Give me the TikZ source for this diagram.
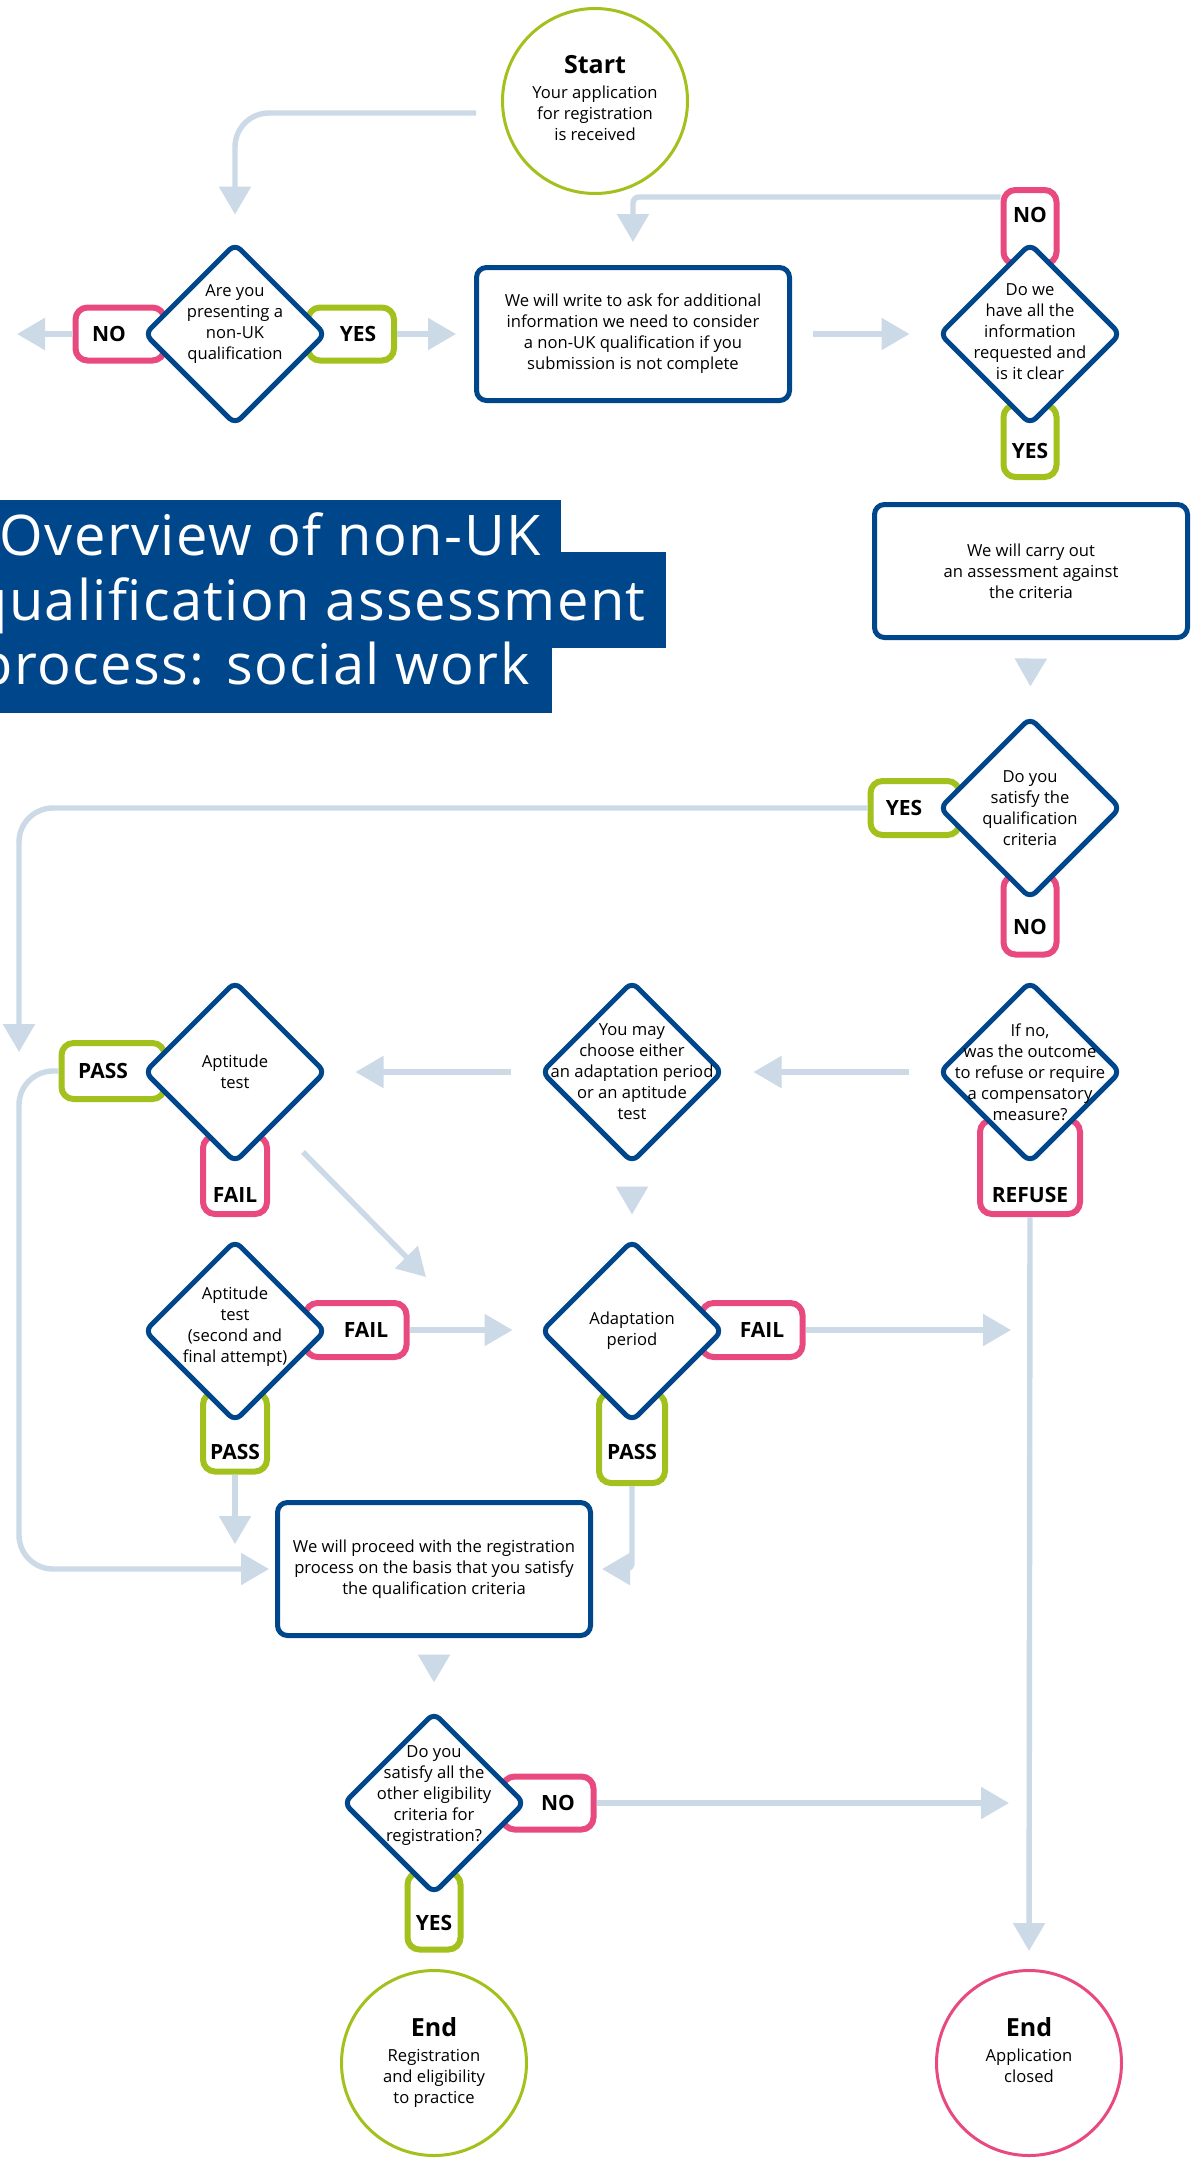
\documentclass[tikz,border=0pt]{standalone}
\usepackage{fontspec}
\setmainfont{Open Sans}
\newfontfamily\headingfont{Open Sans}[LetterSpace=2.5]
\usetikzlibrary{arrows.meta,shapes.geometric}

\definecolor{hcpcblue}{HTML}{00468B}
\definecolor{hcpcpink}{HTML}{E84A80}
\definecolor{hcpcgreen}{HTML}{A3C11C}
\definecolor{linegrey}{HTML}{CCDAE7}

\tikzset{
  question/.style={diamond, draw=hcpcblue, line width=2.5pt, fill=white, rounded corners=4pt,
    minimum width=91pt, minimum height=91pt, inner sep=0pt},
  qtext/.style={align=center, font=\fontsize{8.3}{10.5}\selectfont, inner sep=0pt},
  stepbox/.style={rectangle, draw=hcpcblue, line width=2.5pt, fill=white, rounded corners=5pt,
    minimum width=156.5pt, minimum height=66.5pt, align=center, font=\fontsize{8.3}{10.5}\selectfont},
  notab/.style={rectangle, draw=hcpcpink, line width=3pt, fill=white, rounded corners=6pt},
  yestab/.style={rectangle, draw=hcpcgreen, line width=3pt, fill=white, rounded corners=6pt},
  lab/.style={font=\fontsize{10.5}{12}\selectfont\bfseries, inner sep=0pt},
  terminal/.style={circle, line width=1.5pt, fill=white, minimum size=92.5pt, inner sep=0pt},
  ctext/.style={align=center, font=\fontsize{8.3}{10.5}\selectfont, inner sep=0pt},
  heading/.style={font=\headingfont\fontsize{28}{34}\selectfont, text=white, inner sep=0pt},
  conn/.style={draw=linegrey, line width=2.7pt, -{Triangle[width=15.5pt,length=14pt]}},
}

\begin{document}
\begin{tikzpicture}[x=0.5pt, y=-0.5pt]
\useasboundingbox (0,0) rectangle (1192,2168);
\fill[white] (0,0) rectangle (1192,2168);

% title
\fill[hcpcblue] (0,500) rectangle (561,552);
\fill[hcpcblue] (0,552) rectangle (666,648);
\fill[hcpcblue] (0,648) rectangle (552,713);
\node[heading, anchor=base east] (title1) at (541,555) {Overview of non-UK};
\node[heading, anchor=base east] (title2) at (646,620) {qualification assessment};
\node[heading, anchor=base east] (title3) at (530,684) {process: social work};

% start
\node[terminal, draw=hcpcgreen] (start) at (595,101) {};
\node[ctext, anchor=north] (starttxt) at (595,55)
  {{\fontsize{12.5}{13}\selectfont\bfseries Start}\\[2pt]Your application\\for registration\\is received};

% row 1
\node[notab, minimum width=44.5pt, minimum height=26.5pt, label={[lab, xshift=-5.5pt]center:NO}] (q1no) at (120,334) {};
\node[yestab, minimum width=43pt, minimum height=26.5pt, label={[lab, xshift=3.5pt]center:YES}] (q1yes) at (351,334) {};
\node[question, label={[qtext, yshift=5pt]center:{Are you\\presenting a\\non-UK\\qualification}}] (q1) at (235,334) {};

\node[stepbox] (b1) at (633,334) {We will write to ask for additional\\information we need to consider\\a non-UK qualification if you\\submission is not complete};

\node[notab, minimum width=26.5pt, minimum height=37pt, label={[lab, yshift=6pt]center:NO}] (q2no) at (1030,227) {};
\node[yestab, minimum width=26.5pt, minimum height=36pt, label={[lab, yshift=-5pt]center:YES}] (q2yes) at (1030,441) {};
\node[question, label={[qtext, yshift=1pt]center:{Do we\\have all the\\information\\requested and\\is it clear}}] (q2) at (1030,334) {};

% assessment
\node[stepbox] (b2) at (1031,571) {We will carry out\\an assessment against\\the criteria};

\node[yestab, minimum width=44.5pt, minimum height=27pt, label={[lab, xshift=-5.5pt]center:YES}] (q3yes) at (915,808) {};
\node[notab, minimum width=26.5pt, minimum height=39.5pt, label={[lab, yshift=-6pt]center:NO}] (q3no) at (1030,915) {};
\node[question, label={[qtext]center:{Do you\\satisfy the\\qualification\\criteria}}] (q3) at (1030,808) {};

% row 4
\node[yestab, minimum width=51.5pt, minimum height=28pt, label={[lab, xshift=-5pt]center:PASS}] (q4pass) at (113,1071) {};
\node[notab, minimum width=32pt, minimum height=39pt, label={[lab, yshift=-10pt]center:FAIL}] (q4fail) at (235,1175) {};
\node[question, label={[qtext]center:{Aptitude\\test}}] (q4) at (235,1072) {};

\node[question, label={[qtext]center:{You may\\choose either\\an adaptation period\\or an aptitude\\test}}] (q5) at (632,1072) {};

\node[notab, minimum width=50pt, minimum height=47pt, label={[lab, yshift=-14pt]center:REFUSE}] (q6refuse) at (1030,1167) {};
\node[question, label={[qtext]center:{If no,\\was the outcome\\to refuse or require\\a compensatory\\measure?}}] (q6) at (1030,1072) {};

% row 5
\node[notab, minimum width=50.5pt, minimum height=27pt, label={[lab, xshift=5pt]center:FAIL}] (q7fail) at (356,1330) {};
\node[yestab, minimum width=32pt, minimum height=39.5pt, label={[lab, yshift=-10pt]center:PASS}] (q7pass) at (235,1432) {};
\node[question, label={[qtext, yshift=2pt]center:{Aptitude\\test\\(second and\\final attempt)}}] (q7) at (235,1331) {};

\node[notab, minimum width=50.5pt, minimum height=27pt, label={[lab, xshift=5pt]center:FAIL}] (q8fail) at (752,1330) {};
\node[yestab, minimum width=33pt, minimum height=45pt, label={[lab, yshift=-7pt]center:PASS}] (q8pass) at (632,1438) {};
\node[question, label={[qtext]center:{Adaptation\\period}}] (q8) at (632,1331) {};

% registration
\node[stepbox] (b3) at (434,1569) {We will proceed with the registration\\process on the basis that you satisfy\\the qualification criteria};

\node[notab, minimum width=45.5pt, minimum height=26.5pt, label={[lab, xshift=5pt]center:NO}] (qfno) at (548,1803) {};
\node[yestab, minimum width=26.5pt, minimum height=38.5pt, label={[lab, yshift=-6pt]center:YES}] (qfyes) at (434,1911) {};
\node[question, label={[qtext, yshift=3.5pt]center:{Do you\\satisfy all the\\other eligibility\\criteria for\\registration?}}] (qf) at (434,1803) {};

% ends
\node[terminal, draw=hcpcgreen] (endyes) at (434,2063) {};
\node[ctext, anchor=north] (endyestxt) at (434,2017)
  {{\fontsize{12.5}{13}\selectfont\bfseries End}\\[2pt]Registration\\and eligibility\\to practice};
\node[terminal, draw=hcpcpink] (endno) at (1029,2063) {};
\node[ctext, anchor=north] (endnotxt) at (1029,2017)
  {{\fontsize{12.5}{13}\selectfont\bfseries End}\\[2pt]Application\\closed};

% connectors
\coordinate (q1out) at (17,334);
\coordinate (q3out) at (19,1052);
\coordinate (diagA) at (303,1152);
\coordinate (diagB) at (426,1277);
\coordinate (q7out) at (235,1544);
\coordinate (q8out) at (1011,1330);
\coordinate (qfout) at (1009,1803);

\draw[conn, rounded corners=17pt, shorten >=13pt] ([shift={(-25,12)}]start.west) -| (q1.north);
\draw[conn] (q1no.west) -- (q1out);
\draw[conn, shorten >=9pt] (q1yes.east) -- (q1yes.east -| b1.west);
\draw[conn, shorten <=10.5pt, shorten >=13.5pt] (b1.east) -- (b1.east -| q2.west);
\draw[conn, rounded corners=3pt, shorten >=11.5pt] ([yshift=-5pt]q2no.north west) -| (b1.north);
\draw[conn, shorten <=11pt, shorten >=14pt] (b2.south) -- (q3.north);
\draw[conn, rounded corners=17pt] (q3yes.west) -| (q3out);
\draw[conn, shorten <=14pt, shorten >=14pt] (q6.west) -- (q5.east);
\draw[conn, shorten <=14pt, shorten >=13.5pt] (q5.west) -- (q4.east);
\draw[conn] (diagA) -- (diagB);
\draw[conn, shorten <=12.5pt, shorten >=11.5pt] (q5.south) -- (q8.north);
\draw[conn, shorten >=13pt] (q7fail.east) -- (q7fail.east -| q8.west);
\draw[conn] (q8fail.east) -- (q8out);
\draw[conn, shorten >=9pt] (q6refuse.south) -- (endno.north);
\draw[conn, rounded corners=17pt, shorten >=3pt] (q4pass.west) -| (q3out |- b3.west) -- (b3.west);
\draw[conn] (q7pass.south) -- (q7out);
\draw[conn, rounded corners=3pt, shorten >=4.5pt] (q8pass.south) |- (b3.east);
\draw[conn, shorten <=10pt, shorten >=13.5pt] (b3.south) -- (qf.north);
\draw[conn] (qfno.east) -- (qfout);
\end{tikzpicture}
\end{document}
